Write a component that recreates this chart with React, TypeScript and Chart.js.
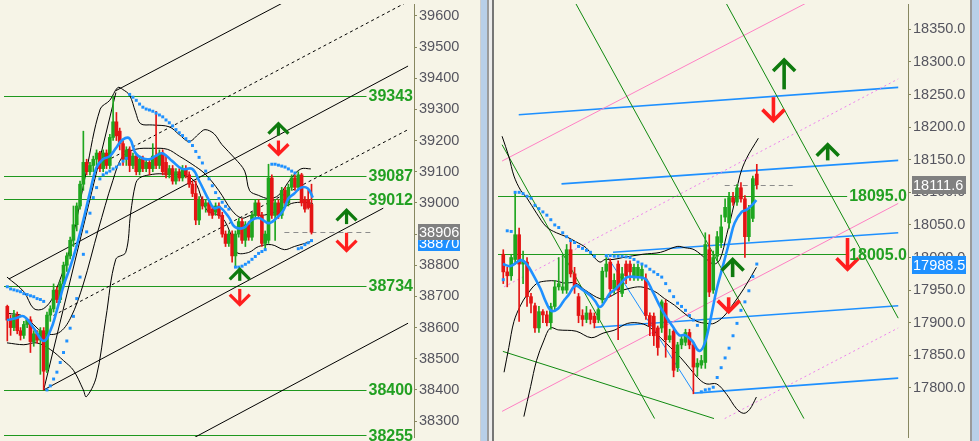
import React, { useEffect, useRef } from "react";
import { Chart, registerables } from "chart.js";

Chart.register(...registerables);

const BG = "#F6F4E7";
const AXIS = "#878760";
const TICK_TEXT = "#55555F";
const UP = "#1FA61F";
const DOWN = "#E41414";
const LEVEL_LINE = "#1E981E";
const LEVEL_TEXT = "#22A022";
const ARROW_UP = "#0E7A0E";
const ARROW_DOWN = "#FF1E1E";
const BLUE = "#1E90FF";
const FONT = "'Liberation Sans', Arial, sans-serif";

// ---------------- LEFT PANEL DATA ----------------
const leftTicks = [38300, 38400, 38500, 38600, 38700, 38800, 38900, 39000, 39100, 39200, 39300, 39400, 39500, 39600];
const leftOpen = [38668,38624,38600,38640,38590,38575,38610,38625,38555,38580,
38560,38590,38465,38640,38660,38720,38690,38740,38800,38830,
38880,38930,38990,39060,39130,39100,39120,39140,39160,39110,
39160,39120,39210,39260,39230,39190,39140,39170,39120,39150,
39100,39140,39110,39130,39110,39150,39120,39160,39130,39090,
39110,39070,39100,39080,39110,39090,39060,39030,38945,39010,
38990,39000,38980,38970,38990,38960,38900,38870,38900,38830,
38900,38940,38880,38930,38890,38960,39000,38960,38870,38880,
39080,38960,39000,38960,39040,39000,39050,39080,39050,39090,
39010,39010,38995];
const leftHigh = [38672,38640,38655,38650,38600,38620,38630,38635,38590,38590,
38600,38600,38650,38670,38740,38730,38750,38810,38840,38890,
38990,39000,39070,39230,39140,39130,39150,39170,39165,39170,
39170,39220,39343,39290,39240,39200,39180,39180,39160,39160,
39150,39150,39140,39140,39190,39294,39170,39170,39150,39120,
39120,39110,39110,39120,39120,39100,39070,39070,39020,39020,
39010,39010,38990,39000,39000,38970,38910,38910,38910,38910,
38950,38950,38940,38940,38970,39010,39010,38970,38910,39124,
39090,39010,39010,39050,39050,39060,39090,39090,39100,39095,
39020,39040,39060];
const leftLow = [38557,38575,38590,38580,38560,38565,38600,38520,38540,38550,
38450,38400,38455,38620,38650,38680,38680,38730,38780,38820,
38860,38910,38980,39040,39090,39090,39100,39120,39100,39100,
39110,39110,39200,39200,39170,39120,39120,39100,39110,39090,
39090,39100,39100,39090,39100,39110,39110,39090,39080,39080,
39060,39060,39070,39070,39080,39050,39020,38930,38930,38980,
38970,38960,38950,38960,38950,38890,38860,38860,38810,38794,
38890,38870,38860,38880,38880,38950,38950,38860,38850,38870,
38950,38880,38950,38950,38990,38990,39040,39040,39040,38990,
38970,38980,38900];
const leftClose = [38624,38600,38640,38590,38575,38610,38625,38555,38580,38560,
38590,38460,38640,38660,38720,38690,38740,38800,38830,38880,
38930,38990,39060,39130,39100,39120,39140,39160,39110,39160,
39120,39210,39260,39215,39190,39140,39170,39120,39150,39100,
39140,39110,39130,39110,39150,39120,39160,39100,39090,39110,
39070,39100,39080,39110,39090,39060,39030,38945,39010,38990,
39000,38970,38960,38990,38960,38900,38870,38900,38830,38900,
38940,38880,38930,38890,38960,39000,38960,38870,38900,39080,
38960,39000,38960,39040,39000,39050,39080,39050,39090,39000,
38980,38985,38906];
const leftMA = [[-0.1,38624],[2.6,38630],[5,38636],[8,38598],[11,38557],[13.1,38592],[14.9,38652],[17,38734],[19.1,38797],[20.9,38860],[23,38945],[25.1,39039],[26.9,39112],[28.9,39140],[31,39150],[32.8,39175],[34.9,39203],[37,39206],[38.8,39159],[40.9,39143],[43,39140],[44.8,39150],[46.9,39159],[49.9,39134],[52.9,39109],[55.9,39109],[58,39071],[61,39008],[62.5,38983],[64.3,38986],[67,38954],[68.8,38923],[71.5,38920],[73.9,38945],[76.3,38951],[79,38935],[81.4,38951],[83.5,38976],[85,39014],[86.8,39030],[88.8,39049],[90.9,39046],[92.4,39017]];
const leftUpperBand = [[-0.1,38762],[5,38715],[8,38661],[11,38661],[14,38702],[19.1,38860],[23.9,39102],[28.1,39301],[31,39329],[33.4,39370],[34.9,39364],[37,39345],[38.8,39291],[40.3,39254],[43.9,39250],[49,39244],[52,39219],[55,39197],[58,39222],[59.8,39235],[62.5,39222],[64.9,39187],[68.8,39143],[71.8,39102],[73.3,39039],[76,39024],[79,39014],[82,39024],[85.9,39080],[88.8,39109],[91.8,39109]];
const leftMidBand = [[-0.1,38646],[5,38636],[11,38583],[15.5,38583],[19.1,38630],[23,38740],[27.5,38913],[31.9,39071],[34.9,39150],[38.8,39172],[43.9,39175],[48.4,39172],[52,39150],[55.9,39124],[59.8,39093],[64,39039],[67.9,38976],[70.9,38951],[73.9,38961],[77.8,38961],[82,38976],[85.9,38998],[89.7,39002],[92.4,38998]];
const leftLowerBand = [[-0.1,38551],[5,38545],[8.9,38551],[13.1,38529],[17,38494],[20,38463],[23,38400],[23.9,38378],[26.9,38441],[29.8,38630],[32.8,38819],[35.8,38841],[37.3,38967],[38.8,39061],[40,39080],[43,39090],[46.9,39093],[55.9,39077],[60.4,38976],[64.9,38954],[67.9,38891],[69.4,38841],[73,38841],[76,38860],[79.9,38866],[83.8,38850],[86.8,38860],[91.8,38876]];
const leftSAR = [[0,38731],[1,38724],[2,38721],[3,38718],[4,38715],[5,38709],[6,38706],[7,38702],[8,38699],[9,38693],[10,38690],[11,38684],
[12,38400],[13,38413],[14,38435],[15,38457],[16,38488],[17,38520],[18,38557],[19,38598],[20,38636],[21,38693],[22,38762],[23,38835],[24,38907],[25,38967],[26,39017],[27,39049],[28,39077],[29,39090],[30,39096],[31,39102],[32,39109],[33,39115],[34,39124],[35,39134],[36,39143],
[37,39348],[38,39339],[39,39329],[40,39317],[41,39307],[42,39301],[43,39298],[44,39294],[45,39288],[46,39282],[47,39276],[48,39266],[49,39257],[50,39247],[51,39235],[52,39225],[53,39216],[54,39206],[55,39197],[56,39184],[57,39165],[58,39146],[59,39128],[60,39102],[61,39077],[62,39055],[63,39033],[64,39014],[65,39002],[66,38989],[67,38980],
[69,38794],[70,38794],[71,38797],[72,38803],[73,38810],[74,38819],[75,38828],[76,38838],[77,38844],[78,38850],
[80,39124],[81,39124],[82,39121],[83,39118],[84,39115],[85,39109],[86,39102],[87,39096],
[88,38853],[89,38856],[90,38866],[91,38872],[92,38879]];
const leftTrendSolid = [[32.84,39360,85,39651],[0.5,38756,121.2,39439],[11,38400,113.7,38983],[11,38400,32.84,39354],[50,38210,121.2,38614]];
const leftTrendDashed = [[29.85,39134,121.2,39646],[13.97,38639,121.2,39235]];
const leftLevels = [39343, 39087, 39012, 38734, 38400, 38255];
const leftArrowsUp = [[82,39254,39216],[102.6,38976,38932],[70.3,38787,38750]];
const leftArrowsDown = [[82,39200,39156],[102.6,38904,38847],[70.3,38724,38674]];
const leftLastPrice = 38906;
const leftAskPrice = 38870;
const leftLastLineRange = [83.8, 109.8];

// ---------------- RIGHT PANEL DATA ----------------
const rightTicks = [17800, 17850, 17900, 17950, 18000, 18050, 18100, 18150, 18200, 18250, 18300, 18350];
const rightOpen = [18005,17978,17972,17997,18035,17990,17993,17940,17926,17892,
17917,17912,17900,17925,17955,17950,17950,18012,17975,17940,
17911,17905,17915,17910,17905,17935,17979,17993,17952,17990,
17945,17990,17990,17972,17970,17970,17967,17911,17910,17892,
17892,17930,17874,17887,17831,17866,17870,17885,17866,17832,
17835,17839,18012,17950,18002,18023,18062,18053,18092,18085,
18107,18090,18032,18060,18128];
const rightClose = [17978,17972,18000,18035,17990,17995,17940,17930,17892,17917,
17912,17900,17925,17955,17960,17955,18012,17975,17955,17911,
17905,17915,17905,17900,17920,17979,17990,17952,17965,17950,
17975,17972,17978,17985,17985,17982,17911,17895,17880,17862,
17932,17874,17880,17827,17866,17875,17885,17866,17832,17838,
17842,18020,17947,18000,18032,18047,18077,18092,18085,18107,
18090,18032,18075,18121,18111.6];
const rightHigh = [18012,17985,18005,18100,18045,18010,18000,17945,17930,17925,
17920,17918,17930,17965,18000,18005,18020,18025,17985,17945,
17920,17925,17920,17915,17925,17985,18000,17998,17975,17995,
17985,17995,17995,17990,17990,17988,17975,17915,17915,17895,
17935,17935,17890,17890,17870,17880,17890,17890,17870,17845,
17850,18038,18035,18010,18040,18065,18090,18100,18100,18112,
18115,18095,18080,18125,18143];
const rightLow = [17960,17955,17965,17990,17902,17960,17925,17915,17885,17885,
17900,17895,17890,17920,17950,17945,17945,17970,17945,17900,
17895,17900,17898,17892,17900,17930,17970,17940,17945,17874,
17940,17960,17965,17965,17965,17965,17905,17880,17865,17850,
17885,17847,17870,17817,17825,17860,17865,17860,17791,17818,
17830,17830,17940,17945,17995,18015,18055,18045,18080,18080,
18085,18000,18025,18055,18105];
const rightMA = [[-0.1,17990],[1.9,17987],[4.4,17996],[5.9,17990],[7.7,17972],[9.4,17952],[10.9,17930],[12.2,17918],[13.9,17922],[15.2,17933],[16.4,17942],[18.2,17957],[19.7,17952],[21.9,17942],[23.2,17933],[24.4,17924],[25.7,17933],[26.9,17945],[28.4,17952],[30.2,17964],[31.4,17970],[33.4,17970],[35.9,17967],[37.7,17948],[39.4,17927],[40.9,17911],[42.7,17895],[44.4,17881],[45.9,17881],[47.7,17872],[49.4,17857],[50.7,17866],[52.2,17902],[53.9,17952],[55.7,17993],[57.2,18027],[58.4,18053],[60.2,18070],[61.4,18073],[62.7,18080],[63.9,18088]];
const rightUpperBand = [[-0.3,18186],[1.4,18155],[2.7,18125],[4.4,18103],[5.9,18092],[8.4,18068],[10.9,18047],[13.4,18038],[15.9,18032],[18.4,18024],[20.9,18015],[22.7,18002],[24.4,17993],[25.7,17997],[27.7,17997],[30.2,18000],[35.2,18005],[39.7,18008],[43.9,18017],[45.9,18015],[48.2,18012],[51.4,17997],[53.2,17990],[54.7,17997],[56.4,18035],[58.2,18080],[59.7,18125],[61.4,18152],[64.4,18183]];
const rightMidBand = [[0.2,17824],[1.4,17862],[2.7,17902],[4.4,17927],[5.9,17942],[8.4,17960],[10.9,17964],[13.4,17964],[15.2,17961],[18.2,17961],[20.2,17952],[22.7,17942],[24.4,17937],[25.9,17937],[29.4,17948],[31.4,17952],[34.7,17955],[38.2,17948],[40.7,17937],[43.2,17927],[46.4,17911],[48.9,17902],[51.4,17899],[53.2,17899],[55.7,17910],[58.2,17930],[60.7,17952],[63.9,17985]];
const rightLowerBand = [[5.2,17756],[6.9,17802],[8.4,17842],[10.2,17872],[11.9,17892],[13.9,17889],[18.4,17887],[22.2,17877],[25.2,17884],[28.2,17889],[31.4,17899],[34.7,17899],[37.2,17892],[39.7,17877],[42.2,17862],[44.7,17847],[47.2,17829],[49.7,17812],[51.4,17806],[53.9,17806],[56.4,17790],[58.9,17768],[60.7,17761],[62.2,17767],[63.9,17786]];
const rightSAR = [[0,17966],[1,18041],[2,18040],[3,18100],[4,18100],[5,18098],[6,18094],[7,18091],[8,18080],[9,18075],[10,18070],[11,18065],[12,18058],[13,18050],[14,18046],[15,18038],[16,18032],[17,18026],[18,18023],[19,18017],[20,18014],[21,18011],[22,18008],[23,18002],
[26,18003],[27,18003],[28,18002],[29,18002],[30,18002],[31,18001],[32,18000],[33,17997],[34,17993],[35,17990],[36,17987],[37,17982],[38,17978],[39,17974],[40,17970],[41,17960],[42,17949],[43,17940],[44,17930],[45,17925],[46,17919],[47,17911],[48,17904],[49,17896],
[50,17794],[51,17797],[52,17798],[53,17801],[54,17816],[55,17831],[56,17846],[57,17861],[58,17880],[59,17899],[60,17919],[61,17932],[62,17949],[63,17971],[64,17990]];
const rightTrendGreen = [[18,18393,75.9,17753],[56,18393,99.7,17907],[-0.3,18173,38.2,17753],[-0.1,17856,53.2,17753]];
const rightTrendBlue = [[3.9,18219,99.7,18261],[14.7,18113,99.7,18149],[27.7,18008,99.7,18038],[23.2,17893,99.7,17926],[48.2,17792,99.7,17815]];
const rightTrendBlueThin = [[25.9,18005,48.2,17792]];
const rightTrendPink = [[-0.3,18148,77,18392],[-0.3,17764,99.7,18083]];
const rightTrendPinkDotted = [[0.2,17955,99.7,18274],[55.9,17753,99.7,17892]];
const rightLevels = [18095.0, 18005.0];
const rightArrowsUp = [[70.9,18303,18258],[81.9,18173,18149],[57.9,17997,17970]];
const rightArrowsDown = [[68.2,18246,18210],[86.9,18030,17982],[56.9,17939,17917]];
const rightLastPrice = 18111.6;
const rightAskPrice = 17988.5;
const rightLastLineRange = [55.9, 73.9];

// ---------------- CHART BUILDER ----------------
interface TrendGroup { segs: number[][]; color: string; width: number; dash: number[] }
interface PanelSpec {
  canvasW: number; plotW: number;
  xMin: number; xMax: number; yMin: number; yMax: number;
  ticks: number[]; fmt: (v: number) => string;
  open: number[]; high: number[]; low: number[]; close: number[]; barW: number;
  ma: number[][]; bands: number[][][]; sar: number[][];
  trends: TrendGroup[];
  levels: number[];
  last: number; ask: number; lastRange: number[];
  up: number[][]; down: number[][]; arrowW: number; arrowLW: number;
  boxW: number; boxH: number;
}

const leftSpec: PanelSpec = {
  canvasW: 480, plotW: 414, xMin: -1, xMax: 123, yMin: 38249, yMax: 39638,
  ticks: leftTicks, fmt: (v) => String(Math.round(v)),
  open: leftOpen, high: leftHigh, low: leftLow, close: leftClose, barW: 3,
  ma: leftMA, bands: [leftUpperBand, leftMidBand, leftLowerBand], sar: leftSAR,
  trends: [
    { segs: leftTrendSolid, color: "#000000", width: 1, dash: [] },
    { segs: leftTrendDashed, color: "#000000", width: 1, dash: [3, 3] },
  ],
  levels: leftLevels, last: leftLastPrice, ask: leftAskPrice, lastRange: leftLastLineRange,
  up: leftArrowsUp, down: leftArrowsDown, arrowW: 10, arrowLW: 3.2, boxW: 42, boxH: 16,
};

const rightSpec: PanelSpec = {
  canvasW: 476, plotW: 414, xMin: -1.33, xMax: 102.17, yMin: 17724.7, yMax: 18388.9,
  ticks: rightTicks, fmt: (v) => v.toFixed(1),
  open: rightOpen, high: rightHigh, low: rightLow, close: rightClose, barW: 3,
  ma: rightMA, bands: [rightUpperBand, rightMidBand, rightLowerBand], sar: rightSAR,
  trends: [
    { segs: rightTrendGreen, color: "#108A10", width: 1, dash: [] },
    { segs: rightTrendPink, color: "#FF80C4", width: 1, dash: [] },
    { segs: rightTrendPinkDotted, color: "#EE82EE", width: 1, dash: [2, 3] },
    { segs: rightTrendBlueThin, color: BLUE, width: 1, dash: [] },
    { segs: rightTrendBlue, color: BLUE, width: 1.6, dash: [] },
  ],
  levels: rightLevels, last: rightLastPrice, ask: rightAskPrice, lastRange: rightLastLineRange,
  up: rightArrowsUp, down: rightArrowsDown, arrowW: 11, arrowLW: 3.6, boxW: 54, boxH: 18,
};

function drawArrow(ctx: CanvasRenderingContext2D, x: number, yTip: number, yTail: number, w: number, lw: number, color: string) {
  const dir = yTail > yTip ? 1 : -1;
  ctx.strokeStyle = color;
  ctx.lineWidth = lw;
  ctx.lineCap = "butt";
  ctx.lineJoin = "miter";
  ctx.beginPath();
  ctx.moveTo(x, yTail);
  ctx.lineTo(x, yTip + dir * 1);
  ctx.stroke();
  ctx.beginPath();
  ctx.moveTo(x - w, yTip + dir * w);
  ctx.lineTo(x, yTip);
  ctx.lineTo(x + w, yTip + dir * w);
  ctx.stroke();
}

function buildChart(canvas: HTMLCanvasElement, s: PanelSpec) {
  const colors = s.open.map((o, i) => (s.close[i] >= o ? UP : DOWN));
  const pts = (a: number[][]) => a.map(([x, y]) => ({ x, y }));
  const datasets: any[] = [];
  s.trends.forEach((g) =>
    g.segs.forEach((seg) =>
      datasets.push({
        type: "line",
        data: [{ x: seg[0], y: seg[1] }, { x: seg[2], y: seg[3] }],
        borderColor: g.color, borderWidth: g.width, borderDash: g.dash,
        pointRadius: 0, tension: 0, order: 9,
      })
    )
  );
  s.bands.forEach((b) =>
    datasets.push({
      type: "line", data: pts(b), borderColor: "#000000", borderWidth: 1,
      pointRadius: 0, tension: 0.35, order: 8,
    })
  );
  datasets.push({
    type: "bar", data: s.open.map((_, i) => ({ x: i, y: [s.low[i], s.high[i]] })),
    backgroundColor: colors, barThickness: 1, grouped: false, order: 7, borderWidth: 0,
  });
  datasets.push({
    type: "bar", data: s.open.map((o, i) => ({ x: i, y: [o, s.close[i]] })),
    backgroundColor: colors, barThickness: s.barW, minBarLength: 1, grouped: false, order: 6, borderWidth: 0,
  });
  datasets.push({
    type: "line", data: pts(s.sar), showLine: false, pointStyle: "rect", pointRadius: 2.1,
    pointBackgroundColor: BLUE, pointBorderWidth: 0, order: 5,
  });
  datasets.push({
    type: "line", data: pts(s.ma), borderColor: BLUE, borderWidth: 2.6,
    pointRadius: 0, tension: 0.4, order: 4,
  });

  const overlay = {
    id: "overlay",
    beforeDraw(chart: any) {
      const ctx = chart.ctx;
      ctx.save();
      ctx.fillStyle = BG;
      ctx.fillRect(0, 0, chart.width, chart.height);
      ctx.restore();
    },
    beforeDatasetsDraw(chart: any) {
      const { ctx, chartArea: a, scales } = chart;
      const y = scales.y, x = scales.x;
      ctx.save();
      ctx.font = `bold 16px ${FONT}`;
      ctx.strokeStyle = LEVEL_LINE;
      ctx.lineWidth = 1;
      s.levels.forEach((v) => {
        const py = Math.round(y.getPixelForValue(v)) + 0.5;
        const tw = ctx.measureText(s.fmt(v)).width;
        ctx.beginPath();
        ctx.moveTo(a.left, py);
        ctx.lineTo(a.right - tw - 3, py);
        ctx.stroke();
      });
      const ly = Math.round(y.getPixelForValue(s.last)) + 0.5;
      ctx.strokeStyle = "#8C8C8C";
      ctx.setLineDash([5, 4]);
      ctx.beginPath();
      ctx.moveTo(x.getPixelForValue(s.lastRange[0]), ly);
      ctx.lineTo(x.getPixelForValue(s.lastRange[1]), ly);
      ctx.stroke();
      ctx.restore();
    },
    afterDatasetsDraw(chart: any) {
      const { ctx, chartArea: a, scales } = chart;
      const y = scales.y, x = scales.x;
      ctx.save();
      s.up.forEach(([i, tip, tail]) =>
        drawArrow(ctx, x.getPixelForValue(i), y.getPixelForValue(tip), y.getPixelForValue(tail), s.arrowW, s.arrowLW, ARROW_UP)
      );
      s.down.forEach(([i, top, tip]) =>
        drawArrow(ctx, x.getPixelForValue(i), y.getPixelForValue(tip), y.getPixelForValue(top), s.arrowW, s.arrowLW, ARROW_DOWN)
      );
      ctx.font = `bold 16px ${FONT}`;
      ctx.fillStyle = LEVEL_TEXT;
      ctx.textAlign = "right";
      ctx.textBaseline = "middle";
      s.levels.forEach((v) => ctx.fillText(s.fmt(v), a.right - 1, y.getPixelForValue(v) + 1));
      ctx.restore();
    },
    afterDraw(chart: any) {
      const { ctx, chartArea: a, scales } = chart;
      const y = scales.y;
      ctx.save();
      ctx.font = `14.5px ${FONT}`;
      ctx.textAlign = "left";
      ctx.textBaseline = "middle";
      const boxes: [number, string][] = [[s.ask, BLUE], [s.last, "#808080"]];
      boxes.forEach(([v, c]) => {
        const py = y.getPixelForValue(v);
        const bx = Math.round(a.right) + 4;
        ctx.fillStyle = c;
        ctx.fillRect(bx, Math.round(py - s.boxH / 2), s.boxW, s.boxH);
        ctx.fillStyle = "#FFFFFF";
        ctx.fillText(s.fmt(v), bx + 1, py + 1);
      });
      ctx.restore();
    },
  };

  return new Chart(canvas, {
    type: "line",
    data: { datasets },
    options: {
      animation: false,
      responsive: false,
      devicePixelRatio: 1,
      layout: { padding: 0 },
      plugins: { legend: { display: false }, tooltip: { enabled: false } },
      events: [],
      scales: {
        x: {
          type: "linear", min: s.xMin, max: s.xMax, display: false, offset: false,
          grid: { display: false },
        },
        y: {
          type: "linear", position: "right", min: s.yMin, max: s.yMax,
          afterBuildTicks: (sc: any) => { sc.ticks = s.ticks.map((v) => ({ value: v })); },
          afterFit: (sc: any) => { sc.width = s.canvasW - s.plotW; sc.paddingTop = 0; sc.paddingBottom = 0; },
          ticks: {
            autoSkip: false, color: TICK_TEXT, padding: 2,
            font: { family: FONT, size: 14.5 },
            callback: (v: any) => s.fmt(Number(v)),
          },
          grid: { drawOnChartArea: false, tickLength: 3, color: AXIS },
          border: { display: true, color: AXIS, width: 1 },
        },
      },
    } as any,
    plugins: [overlay],
  } as any);
}

export default function App() {
  const lRef = useRef<HTMLCanvasElement>(null);
  const rRef = useRef<HTMLCanvasElement>(null);
  useEffect(() => {
    const a = buildChart(lRef.current!, leftSpec);
    const b = buildChart(rRef.current!, rightSpec);
    return () => { a.destroy(); b.destroy(); };
  }, []);
  const strip = (left: number, width: number, bg: string) => (
    <div style={{ position: "absolute", left, top: 0, width, height: 441, background: bg }} />
  );
  return (
    <div style={{ position: "absolute", left: 0, top: 0, width: 979, height: 441, background: BG, overflow: "hidden" }}>
      <canvas ref={lRef} width={480} height={441} style={{ position: "absolute", left: 0, top: 0 }} />
      {strip(480, 1, "#CFCFCF")}
      {strip(481, 6, "#B8CFE8")}
      {strip(487, 2, "#9A9A9A")}
      {strip(489, 3, "#ECECEC")}
      {strip(492, 2, "#767676")}
      <canvas ref={rRef} width={476} height={441} style={{ position: "absolute", left: 494, top: 0 }} />
      {strip(970, 2, "#9A9A9A")}
      {strip(972, 7, "#B8CFE8")}
    </div>
  );
}
